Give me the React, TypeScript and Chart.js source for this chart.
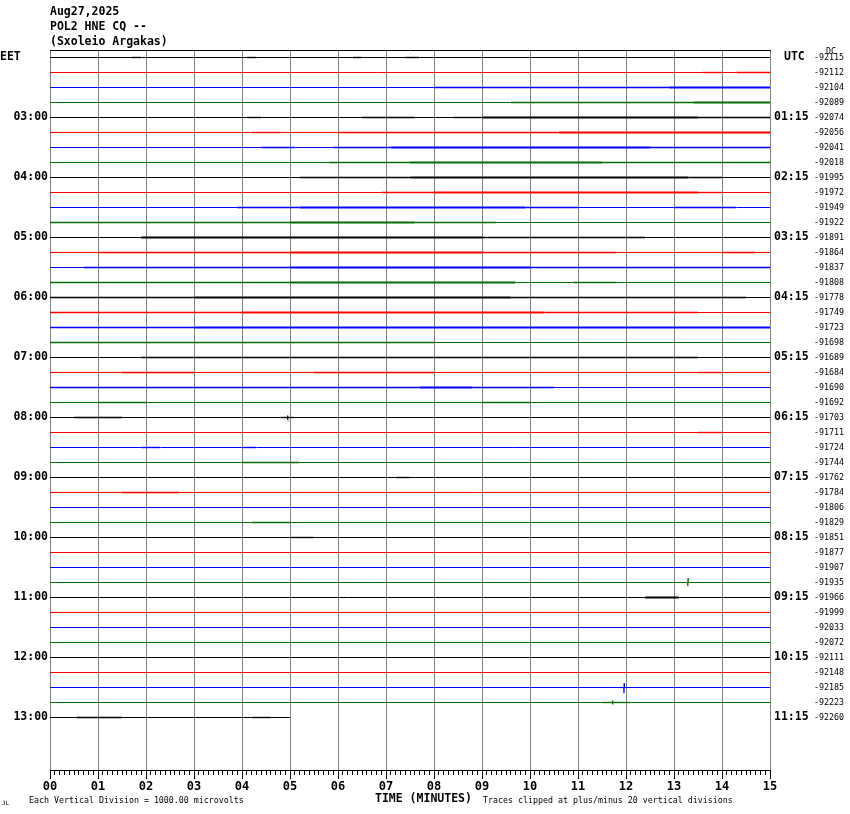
import React, { useEffect, useRef } from 'react';
import { Chart, registerables } from 'chart.js';

Chart.register(...registerables);

// ---------- data ----------
const HEADER = ['Aug27,2025', 'POL2 HNE CQ --', '(Sxoleio Argakas)'];
const LEFT_TOP_LABEL = 'EET';
const RIGHT_TOP_LABEL = 'UTC';
const LEFT_LABELS = ['', '03:00', '04:00', '05:00', '06:00', '07:00', '08:00', '09:00', '10:00', '11:00', '12:00', '13:00'];
const RIGHT_LABELS = ['', '01:15', '02:15', '03:15', '04:15', '05:15', '06:15', '07:15', '08:15', '09:15', '10:15', '11:15'];
const HOUR_ROWS = [0, 4, 8, 12, 16, 20, 24, 28, 32, 36, 40, 44];
const DC_VALUES = [
  -92115, -92112, -92104, -92089, -92074, -92056, -92041, -92018, -91995, -91972,
  -91949, -91922, -91891, -91864, -91837, -91808, -91778, -91749, -91723, -91698,
  -91689, -91684, -91690, -91692, -91703, -91711, -91724, -91744, -91762, -91784,
  -91806, -91829, -91851, -91877, -91907, -91935, -91966, -91999, -92033, -92072,
  -92111, -92148, -92185, -92223, -92260,
];
const MINUTE_LABELS = ['00', '01', '02', '03', '04', '05', '06', '07', '08', '09', '10', '11', '12', '13', '14', '15'];
const TRACE_COLORS = ['#000000', '#ff0000', '#0000ff', 'rgb(0,110,0)'];
const TRACE_START = 0;
const TRACE_END = 15;
const LAST_TRACE_END = 5;
const X_TITLE = 'TIME (MINUTES)';
const FOOT_LEFT = 'Each Vertical Division = 1000.00 microvolts';
const FOOT_RIGHT = 'Traces clipped at plus/minus 20 vertical divisions';

// noisy stretches: [row, startMinute, endMinute, level(1 light / 2 dense)]
const NOISE: [number, number, number, number][] = [
  [0, 1.7, 1.9, 1], [0, 4.1, 4.3, 1], [0, 6.3, 6.5, 1], [0, 7.4, 7.7, 1],
  [1, 13.6, 14.0, 1], [1, 14.3, 15, 1],
  [2, 8.0, 12.9, 1], [2, 12.9, 15, 2],
  [3, 9.6, 13.4, 1], [3, 13.4, 15, 2],
  [4, 4.1, 4.4, 1], [4, 6.5, 7.6, 1], [4, 8.4, 9.0, 1], [4, 9.0, 13.5, 2], [4, 13.5, 15, 1],
  [5, 4.2, 4.8, 1], [5, 6.0, 10.6, 1], [5, 10.6, 15, 2],
  [6, 4.4, 5.1, 1], [6, 5.9, 7.1, 1], [6, 7.1, 12.5, 2], [6, 12.5, 15, 1],
  [7, 5.8, 7.5, 1], [7, 7.5, 11.5, 2], [7, 11.5, 15, 1],
  [8, 5.2, 7.5, 1], [8, 7.5, 13.3, 2], [8, 13.3, 14.0, 1],
  [9, 6.9, 8.0, 1], [9, 8.0, 13.5, 2], [9, 13.5, 14.0, 1],
  [10, 3.9, 5.2, 1], [10, 5.2, 9.9, 2], [10, 9.9, 11.0, 1], [10, 13.0, 14.3, 1],
  [11, 0, 5.0, 1], [11, 5.0, 7.6, 2], [11, 7.6, 9.3, 1],
  [12, 1.9, 9.0, 2], [12, 9.0, 12.4, 1],
  [13, 1.0, 5.0, 1], [13, 5.0, 9.0, 2], [13, 9.0, 11.8, 1], [13, 14.0, 14.7, 1],
  [14, 0.7, 5.0, 1], [14, 5.0, 10.0, 2], [14, 10.0, 15, 1],
  [15, 0, 5.0, 1], [15, 5.0, 9.7, 2], [15, 10.9, 11.8, 1],
  [16, 0, 3.0, 1], [16, 3.0, 9.6, 2], [16, 9.6, 14.5, 1],
  [17, 0, 4.0, 1], [17, 4.0, 10.3, 2], [17, 10.3, 13.5, 1],
  [18, 0, 3.0, 1], [18, 3.0, 15, 2],
  [19, 0, 8.0, 1],
  [20, 1.9, 13.5, 1],
  [21, 1.5, 3.0, 1], [21, 5.5, 8.0, 1], [21, 13.5, 14.0, 1],
  [22, 0, 7.7, 1], [22, 7.7, 8.8, 2], [22, 8.8, 10.5, 1],
  [23, 1.0, 2.0, 1], [23, 9.0, 10.0, 1],
  [24, 0.5, 1.5, 1], [24, 4.8, 5.1, 1],
  [25, 13.5, 14.0, 1],
  [26, 1.9, 2.3, 1], [26, 4.0, 4.3, 1],
  [27, 4.0, 5.2, 1],
  [28, 7.2, 7.5, 1],
  [29, 1.5, 2.7, 1],
  [31, 4.2, 5.0, 1],
  [32, 5.0, 5.5, 1],
  [36, 12.4, 13.1, 2],
  [43, 11.5, 12.1, 1],
  [44, 0.55, 1.5, 1], [44, 4.2, 4.6, 1],
];

// spikes: [row, minute, upward excursion (rows), downward excursion (rows)]
const SPIKES: [number, number, number, number][] = [
  [35, 13.29, 0.29, 0.25],
  [42, 11.96, 0.29, 0.38],
  [43, 11.72, 0.13, 0.13],
  [24, 4.95, 0.13, 0.07],
];

// ---------- styling ----------
const MONO = '"DejaVu Sans Mono", "Liberation Mono", monospace';
const GRID_GRAY = '#808080';
const LIGHT_W = 1.35;
const DENSE_W = 2.0;

function rowWidth(row: number, x: number): number {
  let w = 1;
  for (const [r, s, e, lvl] of NOISE) {
    if (r === row && x >= s && x <= e) {
      const v = lvl === 2 ? DENSE_W : LIGHT_W;
      if (v > w) w = v;
    }
  }
  return w;
}

function traceData(row: number) {
  const end = row === DC_VALUES.length - 1 ? LAST_TRACE_END : TRACE_END;
  const xs = new Set<number>([TRACE_START, end]);
  for (const [r, s, e] of NOISE) {
    if (r === row) {
      if (s <= end) xs.add(s);
      if (e <= end) xs.add(e);
    }
  }
  const pts: { x: number; y: number }[] = [...xs].sort((a, b) => a - b).map((x) => ({ x, y: row }));
  for (const [r, m, up, down] of SPIKES) {
    if (r !== row) continue;
    pts.push({ x: m - 0.006, y: row });
    pts.push({ x: m - 0.002, y: row + down });
    pts.push({ x: m + 0.002, y: row - up });
    pts.push({ x: m + 0.006, y: row });
  }
  pts.sort((a, b) => a.x - b.x);
  return pts;
}

const textPlugin = {
  id: 'heliText',
  afterDraw(chart: any) {
    const { ctx, chartArea } = chart;
    const xs = chart.scales.x;
    const ys = chart.scales.y;
    ctx.save();
    // longer major ticks
    ctx.strokeStyle = '#000';
    ctx.lineWidth = 1;
    MINUTE_LABELS.forEach((_, i) => {
      const px = Math.round(xs.getPixelForValue(i)) + 0.5;
      ctx.beginPath();
      ctx.moveTo(px, chartArea.bottom + 5);
      ctx.lineTo(px, chartArea.bottom + 9);
      ctx.stroke();
    });
    ctx.fillStyle = '#000';
    ctx.textBaseline = 'middle';
    ctx.textAlign = 'left';
    ctx.font = `bold 11.5px ${MONO}`;
    HEADER.forEach((t, i) => ctx.fillText(t, chartArea.left, 12 + i * 15));
    const topY = ys.getPixelForValue(0);
    ctx.fillText(LEFT_TOP_LABEL, 0, topY);
    ctx.fillText(RIGHT_TOP_LABEL, 784, topY);
    ctx.fillText(X_TITLE, 375, 799);
    ctx.font = `8.3px ${MONO}`;
    ctx.fillText('DC', 826, 52);
    ctx.fillText(FOOT_LEFT, 29, 801);
    ctx.fillText(FOOT_RIGHT, 483, 801);
    ctx.font = `6px ${MONO}`;
    ctx.fillText('JL', 2, 803);
    ctx.restore();
  },
};

export default function App() {
  const ref = useRef<HTMLCanvasElement>(null);
  useEffect(() => {
    if (!ref.current) return;
    const datasets = DC_VALUES.map((_, row) => ({
      label: `trace ${row}`,
      data: traceData(row),
      borderColor: TRACE_COLORS[row % 4],
      borderWidth: 1,
      pointRadius: 0,
      tension: 0,
      fill: false,
      segment: {
        borderWidth: (c: any) =>
          c.p0.parsed.y !== row || c.p1.parsed.y !== row
            ? 1.2
            : rowWidth(row, (c.p0.parsed.x + c.p1.parsed.x) / 2),
      },
    }));
    const rowMin = -0.5;
    const rowMax = 47.5;
    const chart = new Chart(ref.current, {
      type: 'line',
      data: { datasets },
      plugins: [textPlugin],
      options: {
        animation: false,
        responsive: false,
        devicePixelRatio: 1,
        layout: { padding: { top: 50, left: 0, right: 0, bottom: 0 } },
        plugins: { legend: { display: false }, tooltip: { enabled: false }, title: { display: false } },
        scales: {
          x: {
            type: 'linear',
            position: 'bottom',
            min: 0,
            max: 15,
            z: 1,
            afterBuildTicks: (s: any) => {
              const t = [];
              for (let i = 0; i <= 150; i++) t.push({ value: i / 10 });
              s.ticks = t;
            },
            afterFit: (s: any) => { s.height = 44; },
            grid: {
              color: (c: any) => (c.tick && Number.isInteger(c.tick.value) ? GRID_GRAY : 'rgba(0,0,0,0)'),
              tickColor: '#000',
              tickLength: 5,
              lineWidth: 1,
            },
            border: { display: true, color: '#000', width: 1 },
            ticks: {
              autoSkip: false,
              maxRotation: 0,
              minRotation: 0,
              padding: 5,
              color: '#000',
              font: { family: MONO, size: 12, weight: 'bold' },
              callback: (_v: any, i: number) => (i % 10 === 0 ? MINUTE_LABELS[i / 10] : ''),
            },
          },
          xTop: {
            type: 'linear',
            position: 'top',
            min: 0,
            max: 15,
            afterFit: (s: any) => { s.height = 0; },
            grid: { display: false, drawTicks: false },
            border: { display: true, color: '#000', width: 1 },
            ticks: { display: false },
          },
          y: {
            type: 'linear',
            position: 'left',
            reverse: true,
            min: rowMin,
            max: rowMax,
            afterBuildTicks: (s: any) => { s.ticks = HOUR_ROWS.map((v) => ({ value: v })); },
            afterFit: (s: any) => { s.width = 50; },
            grid: { display: false, drawTicks: false },
            border: { display: false },
            ticks: {
              autoSkip: false,
              padding: 2,
              color: '#000',
              font: { family: MONO, size: 11.5, weight: 'bold' },
              callback: (_v: any, i: number) => LEFT_LABELS[i],
            },
          },
          yUtc: {
            type: 'linear',
            position: 'right',
            weight: 0,
            reverse: true,
            min: rowMin,
            max: rowMax,
            afterBuildTicks: (s: any) => { s.ticks = HOUR_ROWS.map((v) => ({ value: v })); },
            afterFit: (s: any) => { s.width = 42; },
            grid: { display: false, drawTicks: false },
            border: { display: false },
            ticks: {
              autoSkip: false,
              padding: 4,
              color: '#000',
              font: { family: MONO, size: 11.5, weight: 'bold' },
              callback: (_v: any, i: number) => RIGHT_LABELS[i],
            },
          },
          yDc: {
            type: 'linear',
            position: 'right',
            weight: 1,
            reverse: true,
            min: rowMin,
            max: rowMax,
            afterBuildTicks: (s: any) => { s.ticks = DC_VALUES.map((_, i) => ({ value: i })); },
            afterFit: (s: any) => { s.width = 38; },
            grid: { display: false, drawTicks: false },
            border: { display: false },
            ticks: {
              autoSkip: false,
              padding: 2,
              color: '#000',
              font: { family: MONO, size: 8.3 },
              callback: (_v: any, i: number) => String(DC_VALUES[i]),
            },
          },
        },
      } as any,
    });
    return () => chart.destroy();
  }, []);
  return (
    <div style={{ position: 'absolute', left: 0, top: 0, width: 850, height: 814, background: '#fff' }}>
      <canvas ref={ref} width={850} height={814} style={{ display: 'block', width: 850, height: 814 }} />
    </div>
  );
}
